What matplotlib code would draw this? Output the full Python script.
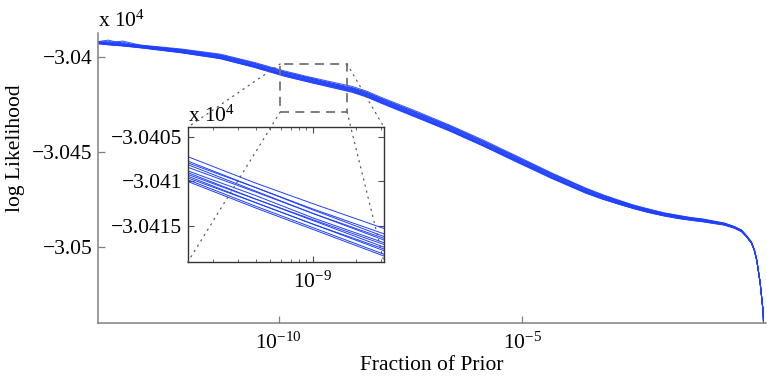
import matplotlib
matplotlib.use("Agg")
import matplotlib.pyplot as plt
import numpy as np
from matplotlib.ticker import FixedLocator, FuncFormatter, NullLocator, NullFormatter, LogLocator
from matplotlib.patches import Rectangle, ConnectionPatch

plt.rcParams['font.family'] = ['Liberation Serif', 'DejaVu Serif']
plt.rcParams['mathtext.fontset'] = 'custom'
plt.rcParams['mathtext.rm'] = 'Liberation Serif'
plt.rcParams['mathtext.it'] = 'Liberation Serif:italic'
plt.rcParams['mathtext.bf'] = 'Liberation Serif:bold'
plt.rcParams['font.size'] = 15.5

# ---------------- data ----------------
log10_prior_fraction = [-13.72, -13.5, -13.2, -12.8, -12.0, -11.2, -10.5, -9.88, -9.4, -9.0,
                        -8.5, -8.2, -7.9, -7.2, -6.5, -5.8, -5.1, -4.4, -3.7, -3.35,
                        -3.0, -2.7, -2.4, -2.1, -1.8, -1.55, -1.3, -0.85, -0.65, -0.5,
                        -0.4, -0.3, -0.24, -0.19, -0.12, -0.06, -0.02]

run_01 = [-30391.7, -30390.9, -30392.7, -30393.6, -30395.6, -30398.3, -30402.7, -30407.2, -30410.2, -30412.5,
          -30415.3, -30417.8, -30421.1, -30428.2, -30435.7, -30443.7, -30452.3, -30461.0, -30469.0, -30472.5,
          -30475.6, -30478.1, -30480.1, -30482.0, -30483.4, -30484.5, -30485.3, -30487.5, -30489.3, -30491.2,
          -30494.1, -30497.4, -30501.5, -30506.8, -30518.9, -30533.9, -30560.0]
run_02 = [-30391.8, -30392.2, -30391.4, -30393.8, -30395.9, -30398.7, -30403.1, -30407.7, -30410.7, -30413.2,
          -30416.2, -30418.5, -30421.7, -30428.8, -30436.1, -30444.3, -30452.8, -30461.3, -30469.3, -30472.8,
          -30475.8, -30478.3, -30480.3, -30482.2, -30483.6, -30484.7, -30485.5, -30487.6, -30489.4, -30491.3,
          -30494.2, -30497.5, -30501.5, -30506.8, -30518.9, -30534.0, -30560.0]
run_03 = [-30391.9, -30392.3, -30392.9, -30393.9, -30396.1, -30398.9, -30403.3, -30407.9, -30410.7, -30413.1,
          -30415.9, -30418.4, -30421.8, -30429.1, -30436.4, -30444.4, -30453.0, -30461.7, -30469.6, -30473.0,
          -30476.0, -30478.5, -30480.5, -30482.4, -30483.8, -30484.8, -30485.6, -30487.7, -30489.5, -30491.4,
          -30494.2, -30497.5, -30501.6, -30506.9, -30518.9, -30534.0, -30560.0]
run_04 = [-30392.0, -30392.4, -30393.1, -30394.0, -30396.2, -30399.1, -30403.5, -30408.1, -30411.1, -30413.6,
          -30416.6, -30419.0, -30422.1, -30429.2, -30436.7, -30444.9, -30453.2, -30461.9, -30469.8, -30473.3,
          -30476.2, -30478.7, -30480.7, -30482.5, -30483.9, -30485.0, -30485.8, -30487.8, -30489.6, -30491.5,
          -30494.3, -30497.6, -30501.6, -30506.9, -30519.0, -30534.0, -30560.0]
run_05 = [-30392.1, -30391.5, -30393.2, -30394.2, -30396.4, -30399.3, -30403.8, -30408.4, -30411.2, -30413.6,
          -30416.4, -30419.0, -30422.4, -30429.5, -30437.0, -30445.0, -30453.6, -30462.2, -30470.1, -30473.5,
          -30476.4, -30478.9, -30480.9, -30482.7, -30484.1, -30485.1, -30485.9, -30487.9, -30489.6, -30491.5,
          -30494.4, -30497.7, -30501.7, -30507.0, -30519.0, -30534.0, -30560.0]
run_06 = [-30392.2, -30392.8, -30393.4, -30394.4, -30396.7, -30399.6, -30404.2, -30408.8, -30411.6, -30414.1,
          -30416.9, -30419.5, -30422.8, -30429.9, -30437.4, -30445.4, -30454.0, -30462.5, -30470.5, -30473.8,
          -30476.7, -30479.1, -30481.1, -30482.9, -30484.3, -30485.2, -30486.0, -30488.0, -30489.7, -30491.6,
          -30494.4, -30497.7, -30501.7, -30507.0, -30519.0, -30534.0, -30560.0]
run_07 = [-30392.3, -30392.9, -30392.0, -30394.5, -30396.9, -30399.8, -30404.4, -30409.0, -30412.0, -30414.4,
          -30417.4, -30419.8, -30423.1, -30430.2, -30437.7, -30445.8, -30454.2, -30462.9, -30470.7, -30474.0,
          -30476.9, -30479.3, -30481.3, -30483.0, -30484.4, -30485.4, -30486.2, -30488.1, -30489.8, -30491.7,
          -30494.5, -30497.8, -30501.7, -30507.0, -30519.0, -30534.0, -30560.0]
run_08 = [-30392.4, -30393.0, -30393.6, -30394.6, -30397.0, -30400.0, -30404.6, -30409.2, -30412.0, -30414.3,
          -30417.1, -30419.8, -30423.2, -30430.5, -30437.9, -30446.1, -30454.5, -30463.1, -30470.9, -30474.2,
          -30477.1, -30479.4, -30481.4, -30483.2, -30484.6, -30485.5, -30486.3, -30488.2, -30489.9, -30491.8,
          -30494.5, -30497.8, -30501.8, -30507.1, -30519.0, -30534.0, -30560.0]
run_09 = [-30392.5, -30393.1, -30393.7, -30394.8, -30397.2, -30400.2, -30404.8, -30409.4, -30412.4, -30414.8,
          -30417.8, -30420.3, -30423.5, -30430.8, -30438.1, -30446.3, -30454.7, -30463.3, -30471.1, -30474.4,
          -30477.3, -30479.6, -30481.6, -30483.3, -30484.7, -30485.6, -30486.4, -30488.3, -30489.9, -30491.8,
          -30494.6, -30497.9, -30501.8, -30507.1, -30519.1, -30534.0, -30560.0]
run_10 = [-30392.6, -30393.2, -30393.8, -30394.9, -30397.3, -30400.4, -30405.0, -30409.6, -30412.4, -30414.8,
          -30417.6, -30420.3, -30423.8, -30431.0, -30438.5, -30446.5, -30455.0, -30463.5, -30471.4, -30474.7,
          -30477.5, -30479.8, -30481.8, -30483.5, -30484.9, -30485.8, -30486.6, -30488.4, -30490.0, -30491.9,
          -30494.7, -30498.0, -30501.9, -30507.2, -30519.1, -30534.1, -30560.0]
run_11 = [-30392.7, -30393.3, -30393.9, -30395.0, -30397.5, -30400.6, -30405.2, -30409.8, -30412.8, -30415.2,
          -30418.2, -30420.7, -30424.0, -30431.2, -30438.7, -30446.7, -30455.2, -30463.7, -30471.5, -30474.8,
          -30477.6, -30479.9, -30481.9, -30483.6, -30485.0, -30485.9, -30486.7, -30488.5, -30490.1, -30492.0,
          -30494.7, -30498.0, -30501.9, -30507.2, -30519.1, -30534.1, -30560.0]
run_12 = [-30392.8, -30393.4, -30394.0, -30395.1, -30397.6, -30400.7, -30405.3, -30410.0, -30413.0, -30415.4,
          -30418.4, -30420.9, -30424.2, -30431.5, -30438.8, -30446.9, -30455.5, -30463.9, -30471.7, -30474.9,
          -30477.7, -30480.0, -30482.0, -30483.7, -30485.1, -30486.0, -30486.8, -30488.6, -30490.2, -30492.1,
          -30494.8, -30498.1, -30502.0, -30507.3, -30519.2, -30534.1, -30560.0]

runs = [run_01, run_02, run_03, run_04, run_05, run_06, run_07, run_08, run_09, run_10, run_11, run_12]

main_xticks = [1e-10, 1e-5]
main_yticks = [-30500, -30450, -30400]
inset_xticks = [1e-9]
inset_yticks = [-30415, -30410, -30405]

# zoom region (main axes) and inset view limits
zoom_log10_x = (-9.971, -8.598)
zoom_y = (-30428.9, -30403.5)
inset_log10_x = (-9.88, -8.5)
inset_y = (-30419.1, -30403.9)

# ---------------- figure ----------------
BLUE = (0.12, 0.25, 1.0)
x = 10.0 ** np.array(log10_prior_fraction)

fig = plt.figure(figsize=(7.67, 3.81), dpi=100)
ax = fig.add_axes([0.1274, 0.1514, 0.8713, 0.7612])

for r in runs:
    ax.plot(x, r, color=BLUE, lw=0.7, alpha=0.9)

ax.set_xscale('log')
ax.set_xlim(10 ** -13.715, 1.0)
ax.set_ylim(-30540.4, -30387.3)

ax.xaxis.set_major_locator(FixedLocator(main_xticks))
ax.xaxis.set_minor_locator(NullLocator())
ax.yaxis.set_major_locator(FixedLocator(main_yticks))
ax.yaxis.set_major_formatter(FuncFormatter(lambda v, p: ('%g' % (v / 1e4)).replace('-', '\u2212')))

for side in ['top', 'right']:
    ax.spines[side].set_visible(False)
for side in ['left', 'bottom']:
    ax.spines[side].set_color('0.5')
    ax.spines[side].set_linewidth(1.1)
ax.tick_params(axis='both', which='major', direction='in', length=5, width=0.9,
               color='0.5', labelcolor='black')
ax.tick_params(axis='x', pad=7)
ax.tick_params(axis='y', pad=4)

ax.set_xlabel('Fraction of Prior', labelpad=1)
ax.set_ylabel('log Likelihood')
ax.yaxis.set_label_coords(-0.109, 0.604)

fig.text(98 / 767, 1 - 27 / 381, 'x 10$^4$', ha='left', va='baseline')

# dashed zoom box
bx0, bx1 = 10 ** zoom_log10_x[0], 10 ** zoom_log10_x[1]
ax.add_patch(Rectangle((bx0, zoom_y[0]), bx1 - bx0, zoom_y[1] - zoom_y[0],
                       fill=False, ec='0.45', lw=1.3, ls=(0, (5, 3.5)), zorder=5))

# inset
axins = fig.add_axes([0.2447, 0.3116, 0.2560, 0.3543])
for r in runs:
    axins.plot(x, r, color=BLUE, lw=0.7)
axins.set_xscale('log')
axins.set_xlim(10 ** inset_log10_x[0], 10 ** inset_log10_x[1])
axins.set_ylim(*inset_y)
axins.xaxis.set_major_locator(FixedLocator(inset_xticks))
axins.xaxis.set_minor_locator(LogLocator(base=10, subs=np.arange(2, 10)))
axins.xaxis.set_minor_formatter(NullFormatter())
axins.yaxis.set_major_locator(FixedLocator(inset_yticks))
axins.yaxis.set_major_formatter(FuncFormatter(lambda v, p: ('%g' % (v / 1e4)).replace('-', '\u2212')))
for s in axins.spines.values():
    s.set_color('0.2')
    s.set_linewidth(1.0)
axins.tick_params(axis='both', which='both', direction='in', top=True, right=True,
                  color='0.3', labelcolor='black')
axins.tick_params(which='major', length=4)
axins.tick_params(which='minor', length=2.5)
axins.tick_params(axis='x', pad=7)
axins.tick_params(axis='y', pad=4)
fig.text(188 / 767, 1 - 122 / 381, 'x 10$^4$', ha='left', va='baseline')

# dotted connectors from zoom-box corners to inset corners
pairs = [((bx0, zoom_y[1]), (0, 1)), ((bx0, zoom_y[0]), (0, 0)),
         ((bx1, zoom_y[1]), (1, 1)), ((bx1, zoom_y[0]), (1, 0))]
for (pa, pb) in pairs:
    con = ConnectionPatch(xyA=pa, coordsA=ax.transData, xyB=pb, coordsB=axins.transAxes,
                          color='0.35', lw=0.9, linestyle=(0, (1, 4)), zorder=10)
    fig.add_artist(con)

fig.savefig('out.png', dpi=100)
